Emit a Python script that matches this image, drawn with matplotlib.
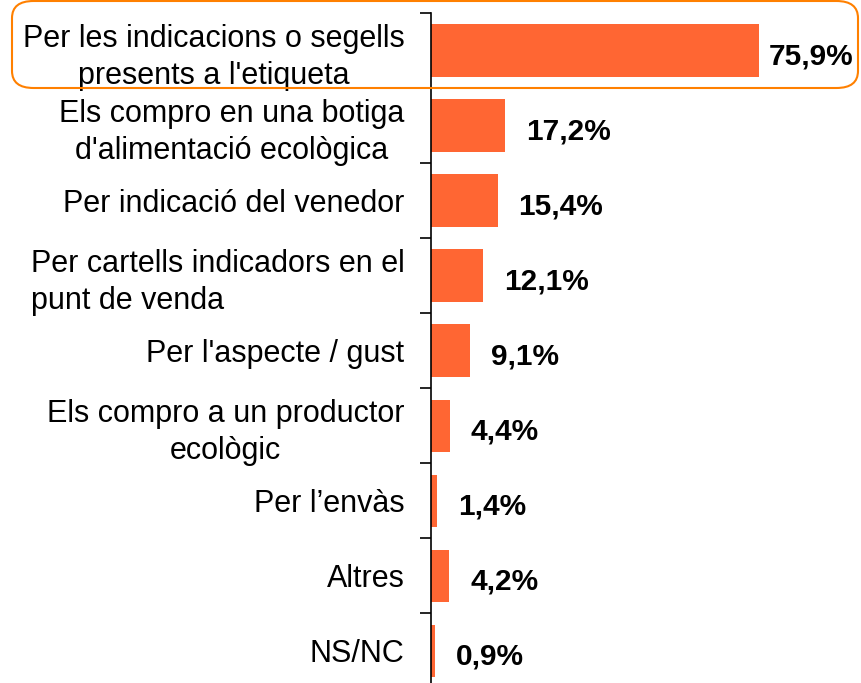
import matplotlib.pyplot as plt
from matplotlib.patches import FancyBboxPatch
import numpy as np

plt.rcParams['font.family'] = ['Liberation Sans', 'DejaVu Sans']

categories = [
    "Per les indicacions o segells\npresents a l'etiqueta",
    "Els compro en una botiga\nd'alimentació ecològica",
    "Per indicació del venedor",
    "Per cartells indicadors en el\npunt de venda",
    "Per l'aspecte / gust",
    "Els compro a un productor\necològic",
    "Per l’envàs",
    "Altres",
    "NS/NC",
]
values = [75.9, 17.2, 15.4, 12.1, 9.1, 4.4, 1.4, 4.2, 0.9]
value_labels = ["75,9%", "17,2%", "15,4%", "12,1%", "9,1%", "4,4%", "1,4%", "4,2%", "0,9%"]

fig = plt.figure(figsize=(8.62, 6.83), dpi=100)
ax = fig.add_axes([0.5, -0.008, 0.502, 0.989])

y = np.arange(len(categories))
ax.barh(y, values, height=0.7, color='#FF6633')
ax.set_xlim(0, 100)
ax.set_ylim(len(categories) - 0.5, -0.5)

for yi, v, t in zip(y, values, value_labels):
    # the longest bar's label is pulled in so it stays inside the figure
    dx = 7 if v > 70 else 15
    ax.annotate(t, (v, yi), xytext=(dx, -4), textcoords='offset points',
                ha='left', va='center', fontsize=21.5, fontweight='bold')

ax.set_yticks(y)
ax.set_yticklabels(categories, fontsize=22, linespacing=1.3)
for lab in ax.get_yticklabels():
    lab.set_multialignment('center')
ax.get_yticklabels()[3].set_multialignment('left')
ax.set_yticks(np.arange(len(categories) + 1) - 0.5, minor=True)
ax.tick_params(axis='y', which='major', length=0, pad=19)
ax.tick_params(axis='y', which='minor', length=8, width=1.2, direction='out')
ax.set_xticks([])
for s in ['top', 'right', 'bottom']:
    ax.spines[s].set_visible(False)
ax.spines['left'].set_linewidth(1.2)

box = FancyBboxPatch((12 / 862, 1 - 88 / 683), 846 / 862, 87 / 683,
                     boxstyle='round,pad=0,rounding_size=0.025',
                     transform=fig.transFigure, fill=False,
                     edgecolor='#FF8000', linewidth=1.5)
fig.patches.append(box)

fig.savefig('out.png', dpi=100)
